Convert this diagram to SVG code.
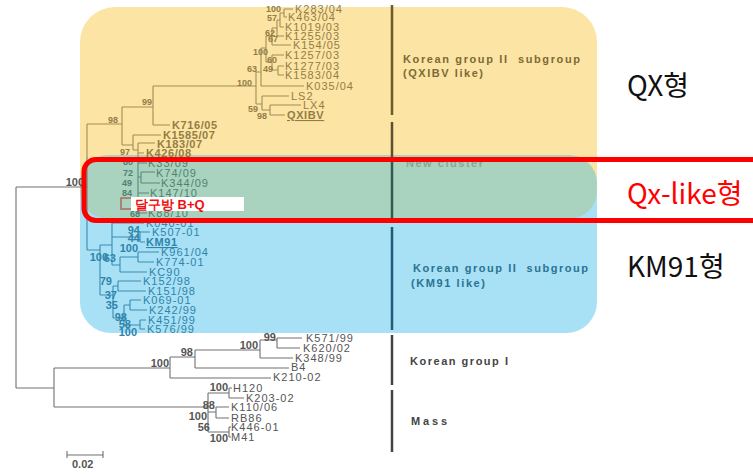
<svg xmlns="http://www.w3.org/2000/svg" width="753" height="474" viewBox="0 0 753 474">
<style>
text{font-family:"Liberation Sans",Arial,sans-serif}
.lf{font-size:11px;letter-spacing:1px}
.lb{font-size:11px;letter-spacing:0.6px;font-weight:bold}
.bs9{font-size:9px;font-weight:bold;text-anchor:end}
.bs11{font-size:11px;font-weight:bold;text-anchor:end}
.grp{font-size:11px;font-weight:bold}
.ty{fill:#937d45}.tg{fill:#4f8272}.tb{fill:#2e84aa}.tw{fill:#555}
.ly{stroke:#a08c55}.lg{stroke:#5a8a7a}.lbl{stroke:#3a8cb0}.lw{stroke:#707070}
.tree path{fill:none;stroke-width:1.1}
.bar{fill:none;stroke-width:2.5}
.kr{font-family:"Noto Sans CJK KR","Noto Sans",sans-serif;font-size:28px}
</style>
<rect width="753" height="474" fill="#fff"/>
<g id="regions">
<path d="M80 195 V42 A35 35 0 0 1 115 7 H562 A35 35 0 0 1 597 42 V195 Z" fill="#FCE4A4"/>
<path d="M80 190 V302 A31 31 0 0 0 111 333 H566 A31 31 0 0 0 597 302 V190 Z" fill="#A8E0F5"/>
<rect x="80" y="155" width="517" height="64" rx="28" fill="#A9D3BF"/>
</g>
<g id="bars">
<path class="bar" d="M392 5 V115" stroke="#6b5b2b"/>
<path class="bar" d="M392 122 V157" stroke="#5b5030"/>
<path class="bar" d="M392 157 V220" stroke="#2f5a50"/>
<path class="bar" d="M392 227 V330" stroke="#1f5d78"/>
<path class="bar" d="M392 335 V385" stroke="#444"/>
<path class="bar" d="M392 390 V452" stroke="#444"/>
</g>
<g id="connectors" class="tree">
<path class="ly" d="M284 9 V17 M284 9 H293 M284 17 H287 M280 13 V27 M280 13 H284 M280 27 H284 M277 20 V36 M277 20 H280 M277 36 H284 M272 28 V45 M272 28 H277 M272 45 H291 M266 36 V62 M266 36 H272 M266 62 H272 M272 55 V70 M272 55 H284 M272 70 H278 M278 66 V75 M278 66 H284 M278 75 H284 M261 48 V86 M261 48 H266 M261 86 H304 M256 72 V104 M256 72 H261 M256 104 H262 M262 96 V110 M262 96 H289 M262 110 H270 M270 105 V115 M270 105 H301 M270 115 H285 M153 86 V125 M153 86 H256 M153 125 H170 M122 107 V145 M122 107 H153 M122 145 H133 M133 135 V150 M133 135 H161 M133 150 H138 M138 143 V157 M138 143 H155 M138 153 H144 M87 124 V157 M87 124 H122"/>
<path class="lg" d="M138 157 V213 M138 163 H147 M138 177 H141 M141 172 V183 M141 172 H155 M141 183 H160 M138 193 H149 M138 213 H147 M87 157 V220"/>
<path class="lbl" d="M87 220 V250 M87 250 H100 M100 245 V295 M100 245 H112 M100 295 H113 M112 223 V265 M112 223 H144 M112 237 H140 M112 265 H120 M140 232 V242 M140 232 H150 M140 242 H145 M120 257 V272 M120 257 H138 M120 272 H147 M138 252 V262 M138 252 H159 M138 262 H154 M113 286 V318 M113 286 H118 M113 318 H124 M118 281 V291 M118 281 H141 M118 291 H146 M124 305 V325 M124 305 H130 M124 325 H140 M130 300 V310 M130 300 H141 M130 310 H147 M140 320 V329 M140 320 H146 M140 329 H145"/>
<path class="lw" d="M16 187 V388 M16 187 H87 M16 388 H54 M54 368 V407 M54 368 H170 M54 407 H208 M170 357 V378 M170 357 H195 M170 378 H271 M195 350 V368 M195 350 H260 M195 368 H289 M260 340 V358 M260 340 H277 M260 358 H293 M277 338 V348 M277 338 H302 M277 348 H300 M208 393 V432 M208 393 H229 M208 412 H216 M208 432 H229 M229 388 V398 M229 388 H232 M229 398 H244 M216 407 V418 M216 407 H229 M216 418 H229 M229 427 V437 M229 427 H231 M229 437 H231"/>
<path class="lw" d="M67 455 H103 M67 451 V458 M103 451 V458"/>
</g>
<g id="bootstrap">
<text class="bs9 ty" x="281" y="12">100</text>
<text class="bs9 ty" x="277" y="21">57</text>
<text class="bs9 ty" x="275" y="36">62</text>
<text class="bs9 ty" x="278" y="42">67</text>
<text class="bs9 ty" x="268" y="55">100</text>
<text class="bs9 ty" x="277" y="63">60</text>
<text class="bs9 ty" x="257" y="72">63</text>
<text class="bs9 ty" x="273" y="72">49</text>
<text class="bs9 ty" x="252" y="86">100</text>
<text class="bs9 ty" x="258" y="112">59</text>
<text class="bs9 ty" x="267" y="119">98</text>
<text class="bs9 ty" x="152" y="105">99</text>
<text class="bs9 ty" x="118" y="123">98</text>
<text class="bs9 ty" x="130" y="155">97</text>
<text class="bs9 tg" x="133" y="165">80</text>
<text class="bs9 tg" x="133" y="176">72</text>
<text class="bs9 tg" x="132" y="186">49</text>
<text class="bs9 tg" x="132" y="196">84</text>
<text class="bs9 tg" x="140" y="217">68</text>
<text class="bs11 tb" x="140" y="234">94</text>
<text class="bs11 tb" x="140" y="242">44</text>
<text class="bs11 tb" x="138" y="252">100</text>
<text class="bs11 tb" x="108" y="261">100</text>
<text class="bs11 tb" x="116" y="262">63</text>
<text class="bs11 tb" x="112" y="285">79</text>
<text class="bs11 tb" x="117" y="299">37</text>
<text class="bs11 tb" x="118" y="309">35</text>
<text class="bs11 tb" x="127" y="321">98</text>
<text class="bs11 tb" x="131" y="328">58</text>
<text class="bs11 tb" x="137" y="336">100</text>
<text class="bs11 tw" x="84" y="186">100</text>
<text class="bs11 tw" x="276" y="341">99</text>
<text class="bs11 tw" x="258" y="349">100</text>
<text class="bs11 tw" x="193" y="356">98</text>
<text class="bs11 tw" x="169" y="367">100</text>
<text class="bs11 tw" x="228" y="391">100</text>
<text class="bs11 tw" x="215" y="409">88</text>
<text class="bs11 tw" x="207" y="420">100</text>
<text class="bs11 tw" x="210" y="431">56</text>
<text class="bs11 tw" x="228" y="442">100</text>
</g>
<g id="leaves-qx">
<text class="lf ty" x="295" y="13">K283/04</text>
<text class="lf ty" x="288" y="21">K463/04</text>
<text class="lf ty" x="285" y="31">K1019/03</text>
<text class="lf ty" x="285" y="40">K1255/03</text>
<text class="lf ty" x="293" y="49">K154/05</text>
<text class="lf ty" x="285" y="59">K1257/03</text>
<text class="lf ty" x="285" y="70">K1277/03</text>
<text class="lf ty" x="285" y="79">K1583/04</text>
<text class="lf ty" x="306" y="90">K035/04</text>
<text class="lf ty" x="291" y="100">LS2</text>
<text class="lf ty" x="303" y="109">LX4</text>
<text class="lb ty" x="287" y="119" text-decoration="underline">QXIBV</text>
<text class="lb ty" x="172" y="129">K716/05</text>
<text class="lb ty" x="163" y="139">K1585/07</text>
<text class="lb ty" x="157" y="148">K183/07</text>
<text class="lb ty" x="146" y="157">K426/08</text>
</g>
<g id="leaves-new">
<text class="lf tg" x="148" y="167">K33/09</text>
<text class="lf tg" x="156" y="177">K74/09</text>
<text class="lf tg" x="161" y="187">K344/09</text>
<text class="lf tg" x="150" y="197">K147/10</text>
<text class="lf tg" x="148" y="217">K88/10</text>
</g>
<g id="leaves-km91">
<text class="lf tb" x="146" y="227">K040-01</text>
<text class="lf tb" x="152" y="236">K507-01</text>
<text class="lb tb" x="146" y="246" text-decoration="underline">KM91</text>
<text class="lf tb" x="161" y="256">K961/04</text>
<text class="lf tb" x="156" y="266">K774-01</text>
<text class="lf tb" x="149" y="276">KC90</text>
<text class="lf tb" x="143" y="285">K152/98</text>
<text class="lf tb" x="148" y="295">K151/98</text>
<text class="lf tb" x="143" y="304">K069-01</text>
<text class="lf tb" x="149" y="314">K242/99</text>
<text class="lf tb" x="148" y="324">K451/99</text>
<text class="lf tb" x="147" y="333">K576/99</text>
</g>
<g id="leaves-other">
<text class="lf tw" x="306" y="342">K571/99</text>
<text class="lf tw" x="303" y="352">K620/02</text>
<text class="lf tw" x="295" y="362">K348/99</text>
<text class="lf tw" x="291" y="371">B4</text>
<text class="lf tw" x="273" y="381">K210-02</text>
<text class="lf tw" x="233" y="392">H120</text>
<text class="lf tw" x="246" y="402">K203-02</text>
<text class="lf tw" x="231" y="411">K110/06</text>
<text class="lf tw" x="231" y="422">RB86</text>
<text class="lf tw" x="231" y="431">K446-01</text>
<text class="lf tw" x="231" y="441">M41</text>
<text class="grp tw" x="72" y="468">0.02</text>
</g>
<g id="group-labels">
<text class="grp" x="403" y="63" textLength="177" lengthAdjust="spacing" fill="#7d6a35" xml:space="preserve">Korean group II  subgroup</text>
<text class="grp" x="403" y="77" textLength="80" lengthAdjust="spacing" fill="#7d6a35">(QXIBV like)</text>
<text class="grp" x="406" y="167" textLength="77" lengthAdjust="spacing" fill="#86a898">New cluster</text>
<text class="grp" x="413" y="272" textLength="175" lengthAdjust="spacing" fill="#2a7392" xml:space="preserve">Korean group II  subgroup</text>
<text class="grp" x="411" y="287" textLength="74" lengthAdjust="spacing" fill="#2a7392">(KM91 like)</text>
<text class="grp" x="410" y="365" textLength="98" lengthAdjust="spacing" fill="#444">Korean group I</text>
<text class="grp" x="411" y="425" textLength="36" lengthAdjust="spacing" fill="#444">Mass</text>
</g>
<g id="highlight">
<rect x="84" y="159.5" width="700" height="61" rx="12" fill="none" stroke="#FF0000" stroke-width="5"/>
<rect x="121" y="198" width="13" height="11" fill="none" stroke="#b06a60" stroke-width="1.5"/>
<rect x="131" y="197" width="113" height="14" fill="#fff"/>
<text x="135" y="209" font-family="'Noto Sans CJK KR','Noto Sans',sans-serif" font-size="13" font-weight="bold" fill="#F01010">달구방 B+Q</text>
</g>
<g id="type-labels">
<text class="kr" x="627" y="96" fill="#111">QX형</text>
<text class="kr" x="627" y="204" fill="#FF0000">Qx-like형</text>
<text class="kr" x="627" y="277" fill="#111">KM91형</text>
</g>
</svg>
